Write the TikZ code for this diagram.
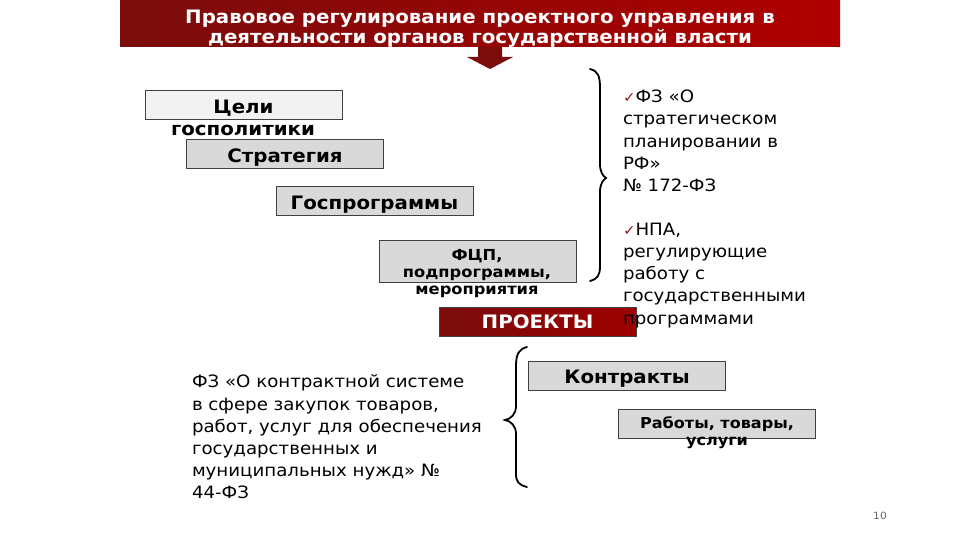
\documentclass[tikz,border=0pt]{standalone}
\usepackage{fontspec}
\setmainfont[FakeStretch=1.07]{DejaVu Sans}
\begin{document}
\begin{tikzpicture}[x=1pt,y=-1pt,
  every node/.style={inner sep=0pt,outer sep=0pt},
  lvl/.style={draw=black!75,line width=1pt,fill=black!15,minimum width=197pt,minimum height=29pt,text height=17pt,text depth=0.5pt,font=\bfseries\fontsize{18.5}{20}\selectfont},
  lbl/.style={font=\bfseries\fontsize{18.5}{20}\selectfont,align=center},
  body/.style={font=\fontsize{17}{22.2}\selectfont,align=left,anchor=north west},
  brace/.style={line width=1.8pt,line cap=round}]
\definecolor{dred}{HTML}{7A0C0C}
\definecolor{bred}{HTML}{B00000}
\definecolor{tickred}{HTML}{8B1A1A}
\newcommand{\tk}{{\color{tickred}\fontsize{14}{14}\selectfont ✓}}
\useasboundingbox (0,0) rectangle (960,540);
\fill[white] (0,0) rectangle (960,540);
% title banner
\node[left color=dred,right color=bred,minimum width=720pt,minimum height=47pt,anchor=north west] (title) at (120,0) {};
\node[text=white,font=\bfseries\fontsize{18.5}{20}\selectfont,align=center] (titletxt) at (480,29) {Правовое регулирование проектного управления в\\деятельности органов государственной власти};
% down arrow
\fill[dred] (478,47) -- (502,47) -- (502,57) -- (513,57) -- (490,69) -- (467,57) -- (478,57) -- cycle;
% level boxes
\node[lvl,fill=black!5] (goals) at (243.5,105) {Цели};
\node[lbl] (goals2) at (243,130) {госполитики};
\node[lvl] (strat) at (285,154.5) {Стратегия};
\node[lvl] (gp) at (374.5,201) {Госпрограммы};
\node[lvl,minimum height=42pt] (fcp) at (477.5,261) {};
\node[lbl,font=\bfseries\fontsize{15.2}{17}\selectfont] (fcptxt) at (477,274) {ФЦП,\\подпрограммы,\\мероприятия};
\node[lvl,left color=dred,right color=bred!90!black,text=white,text height=15pt] (proj) at (537.5,321.5) {ПРОЕКТЫ};
\node[lvl] (contr) at (627,375.5) {Контракты};
\node[lvl,minimum height=29pt] (works) at (717,423.5) {};
\node[lbl,font=\bfseries\fontsize{15}{17}\selectfont] (workstxt) at (717,433) {Работы, товары,\\услуги};
% right brace
\draw[brace] (590,69) .. controls (598,71) and (600,76) .. (600,88) -- (600,164) .. controls (600,172) and (603,176) .. (606,178) .. controls (603,180) and (600,184) .. (600,192) -- (600,266) .. controls (600,276) and (597,279) .. (590,281);
% right text
\node[body] (law1) at (623,90) {\tk ФЗ «О\\стратегическом\\планировании в\\РФ»\\№ 172-ФЗ};
\node[body] (law2) at (623,223) {\tk НПА,\\регулирующие\\работу с\\государственными\\программами};
% left brace
\draw[brace] (527,347) .. controls (519,349) and (516,354) .. (516,366) -- (516,406) .. controls (516,414) and (511,419) .. (505,420) .. controls (511,421) and (516,426) .. (516,434) -- (516,474) .. controls (516,482) and (519,485) .. (527,487);
% left text
\node[body] (law3) at (192,375) {ФЗ «О контрактной системе\\в сфере закупок товаров,\\работ, услуг для обеспечения\\государственных и\\муниципальных нужд» №\\44-ФЗ};
% page number
\node[text=black!60,font=\fontsize{10}{12}\selectfont] (page) at (880,516) {10};
\end{tikzpicture}
\end{document}
